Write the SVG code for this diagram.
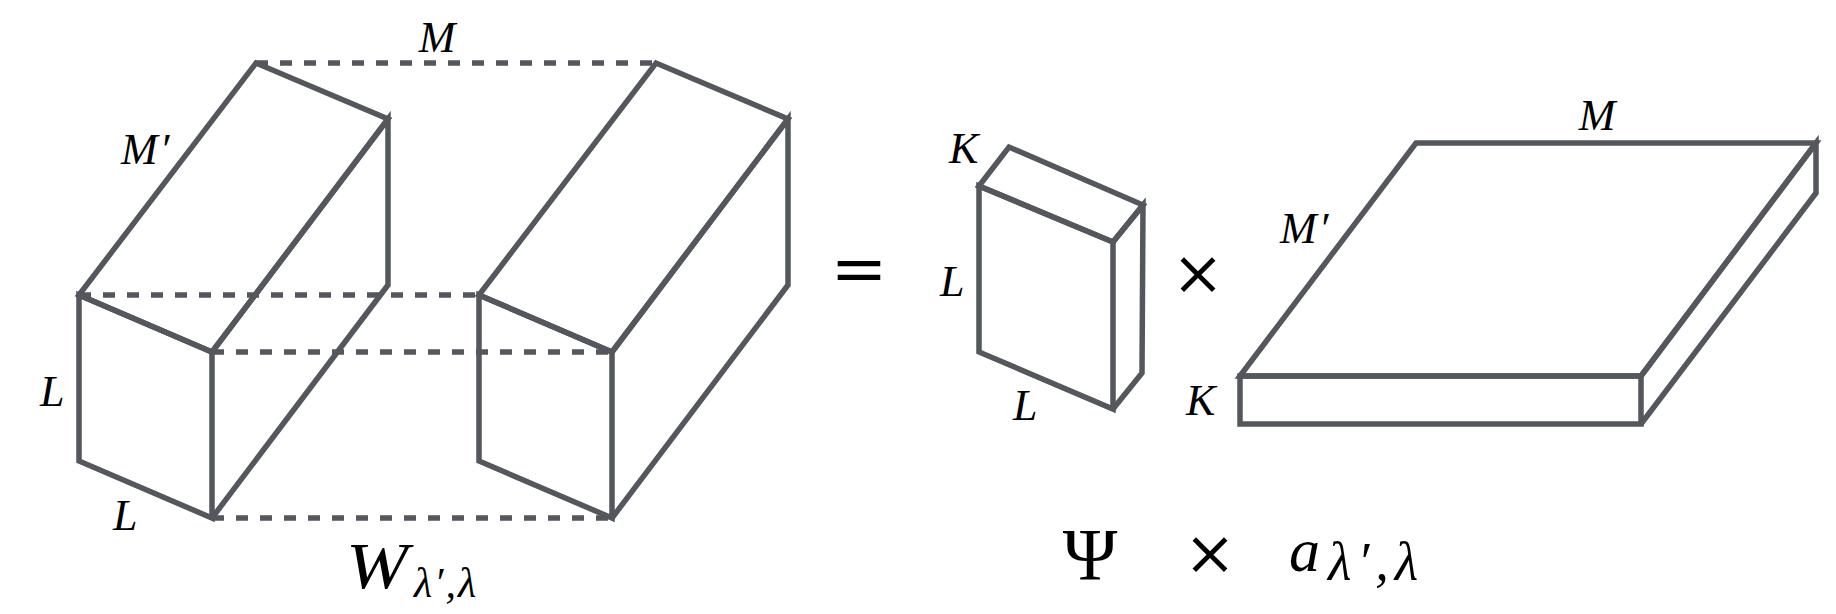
<svg xmlns="http://www.w3.org/2000/svg" width="1836" height="614" viewBox="0 0 1836 614">
  <style>
    .edge { fill: none; stroke: #54575d; stroke-width: 5.5; stroke-linejoin: miter; stroke-linecap: butt; }
    .dash { fill: none; stroke: #54575d; stroke-width: 5.5; stroke-dasharray: 12 12; }
    .lab { font-family: "Liberation Serif", "Times New Roman", serif; font-style: italic; fill: #000; }
    .sym { font-family: "DejaVu Serif", "Liberation Serif", serif; fill: #000; }
    .big { font-family: "Liberation Serif", "Times New Roman", serif; fill: #000; }
  </style>
  <rect width="1836" height="614" fill="#ffffff"/>

  <g id="connectors">
    <line class="dash" x1="256" y1="63" x2="656" y2="63"/>
    <line class="dash" x1="79" y1="295" x2="479" y2="295"/>
    <line class="dash" x1="212" y1="352" x2="612" y2="352"/>
    <line class="dash" x1="212" y1="518" x2="612" y2="518"/>
  </g>

  <g id="block-left">
    <path class="edge" d="M79 295 L256 63 L388 119 L212 352 Z"/>
    <path class="edge" d="M79 295 L212 352 L212 518 L79 461 Z"/>
    <path class="edge" d="M212 352 L388 119 L388 285 L212 518"/>
  </g>

  <g id="block-right">
    <path class="edge" d="M479 295 L656 63 L788 119 L612 352 Z"/>
    <path class="edge" d="M479 295 L612 352 L612 518 L479 461 Z"/>
    <path class="edge" d="M612 352 L788 119 L788 285 L612 518"/>
  </g>

  <g id="psi-block">
    <path class="edge" d="M979 186 L1009 147 L1143 205 L1113 242 Z"/>
    <path class="edge" d="M979 186 L1113 242 L1113 409 L979 352 Z"/>
    <path class="edge" d="M1113 242 L1143 205 L1142 373 L1113 409"/>
  </g>

  <g id="a-slab">
    <path class="edge" d="M1240 376 L1416 143 L1816 143 L1641 376 Z"/>
    <path class="edge" d="M1240 376 L1641 376 L1641 424 L1240 424 Z"/>
    <path class="edge" d="M1641 376 L1816 143 L1816 193 L1641 424"/>
  </g>

  <g id="labels">
    <text class="lab" x="437" y="52" font-size="44" text-anchor="middle">M</text>
    <text class="lab" x="121" y="164" font-size="44" letter-spacing="2">M′</text>
    <text class="lab" x="40" y="406" font-size="44">L</text>
    <text class="lab" x="113" y="530" font-size="44">L</text>
    <text class="lab" x="346" y="588" font-size="66" textLength="62" lengthAdjust="spacingAndGlyphs">W</text>
    <text class="lab" x="414" y="597" font-size="42" letter-spacing="2">λ′,λ</text>
    <text class="sym" x="859" y="292" font-size="68" text-anchor="middle">=</text>

    <text class="lab" x="949" y="163" font-size="44">K</text>
    <text class="lab" x="940" y="296" font-size="44">L</text>
    <text class="lab" x="1013" y="420" font-size="44">L</text>
    <text class="sym" x="1198" y="294" font-size="62" text-anchor="middle">×</text>

    <text class="lab" x="1597" y="130" font-size="44" text-anchor="middle">M</text>
    <text class="lab" x="1280" y="243" font-size="44" letter-spacing="2">M′</text>
    <text class="lab" x="1186" y="415" font-size="44">K</text>

    <text class="big" x="1090" y="580" font-size="74" text-anchor="middle">Ψ</text>
    <text class="sym" x="1210" y="574" font-size="62" text-anchor="middle">×</text>
    <text class="lab" x="1289" y="571" font-size="62">a</text>
    <text class="lab" x="1328" y="580" font-size="54" letter-spacing="6">λ′,λ</text>
  </g>
</svg>
